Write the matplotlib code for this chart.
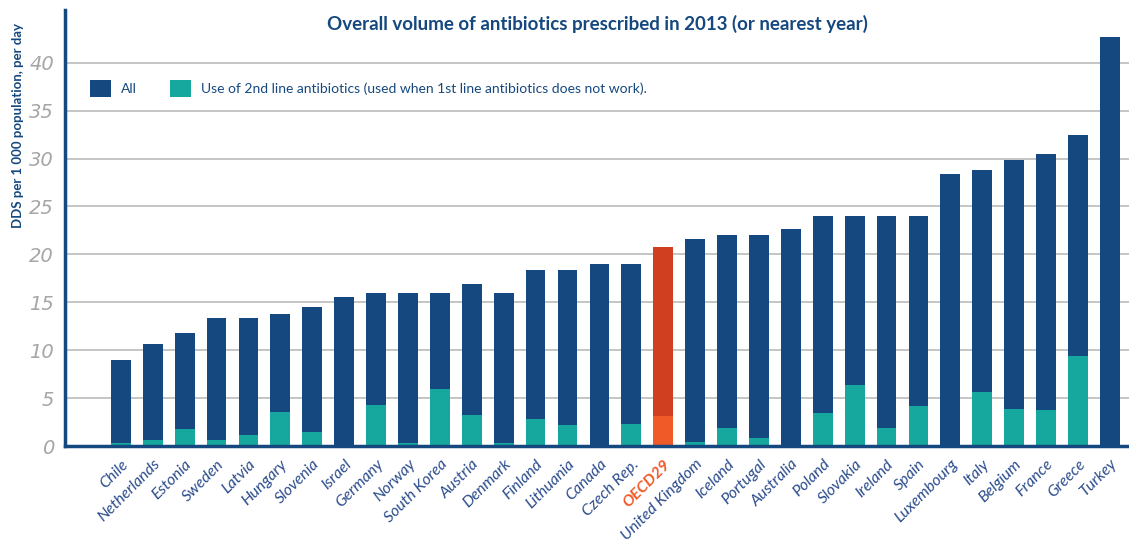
#!/usr/bin/env python3
"""Overall volume of antibiotics prescribed in 2013, stacked bar chart."""

import numpy as np
import matplotlib.pyplot as plt

# --- Data ---
countries = ["Chile", "Netherlands", "Estonia", "Sweden", "Latvia", "Hungary",
             "Slovenia", "Israel", "Germany", "Norway", "South Korea", "Austria",
             "Denmark", "Finland", "Lithuania", "Canada", "Czech Rep.", "OECD29",
             "United Kingdom", "Iceland", "Portugal", "Australia", "Poland",
             "Slovakia", "Ireland", "Spain", "Luxembourg", "Italy", "Belgium",
             "France", "Greece", "Turkey"]
total = [9.0, 10.6, 11.8, 13.4, 13.4, 13.8, 14.5, 15.5, 16.0, 16.0, 16.0, 16.9,
         16.0, 18.4, 18.4, 19.0, 19.0, 20.8, 21.6, 22.0, 22.0, 22.6, 24.0, 24.0,
         24.0, 24.0, 28.4, 28.8, 29.8, 30.5, 32.5, 42.7]
second_line = [0.3, 0.6, 1.8, 0.6, 1.2, 3.6, 1.5, 0.0, 4.3, 0.3, 6.0, 3.2,
               0.3, 2.8, 2.2, 0.0, 2.3, 3.1, 0.4, 1.9, 0.8, 0.0, 3.4, 6.4,
               1.9, 4.2, 0.0, 5.6, 3.9, 3.8, 9.4, 0.0]
highlight = "OECD29"

# --- Colours / font ---
navy = "#15487f"
teal = "#16a89e"
red = "#d04020"
orange = "#f05a28"
label_blue = "#2b4c8c"
narrow = ["Lato", "DejaVu Sans"]

fig = plt.figure(figsize=(11.29, 5.47), dpi=100)
ax = fig.add_axes([0.0576, 0.1846, 0.9424, 0.7971])

x = np.arange(len(countries))
top_cols = [red if c == highlight else navy for c in countries]
low_cols = [orange if c == highlight else teal for c in countries]

ax.bar(x, total, width=0.62, color=top_cols, zorder=2, label="All")
ax.bar(x, second_line, width=0.62, color=low_cols, zorder=3,
       label="Use of 2nd line antibiotics (used when 1st line antibiotics does not work).")

ax.set_xlim(-1.75, 31.6)
ax.set_ylim(0, 45.5)
ax.set_yticks(np.arange(0, 45, 5))
ax.yaxis.grid(True, color="#bbbbbb", linewidth=1.2, zorder=0)
ax.set_axisbelow(True)

for s in ["top", "right"]:
    ax.spines[s].set_visible(False)
for s in ["left", "bottom"]:
    ax.spines[s].set_color(navy)
    ax.spines[s].set_linewidth(2.5)
    ax.spines[s].set_zorder(4)

ax.tick_params(axis="y", length=0, pad=8, labelsize=14, labelcolor="#a6a6a6")
for t in ax.get_yticklabels():
    t.set_fontstyle("italic")

ax.set_xticks(x)
ax.set_xticklabels(countries, rotation=45, ha="right", rotation_mode="anchor",
                   fontsize=11.5, fontstyle="italic", color=label_blue,
                   family=narrow)
ax.tick_params(axis="x", length=0, pad=8)
for t in ax.get_xticklabels():
    if t.get_text() == highlight:
        t.set_color(orange)
        t.set_fontweight("bold")

ax.set_title("Overall volume of antibiotics prescribed in 2013 (or nearest year)",
             fontsize=13.5, fontweight="bold", color=navy, y=0.955, pad=0,
             family=narrow)

fig.text(0.016, 0.77, "DDS per 1 000 population, per day", rotation=90,
         ha="center", va="center", fontsize=9.5, fontweight="bold", color=navy,
         family=narrow)

leg = ax.legend(loc="upper left", bbox_to_anchor=(0.012, 0.868), ncol=2,
                frameon=False, prop={"family": narrow, "size": 10},
                handlelength=1.5, handleheight=1.5,
                columnspacing=2.4, handletextpad=0.7)
for t in leg.get_texts():
    t.set_color(navy)

fig.savefig("out.png", dpi=100)
